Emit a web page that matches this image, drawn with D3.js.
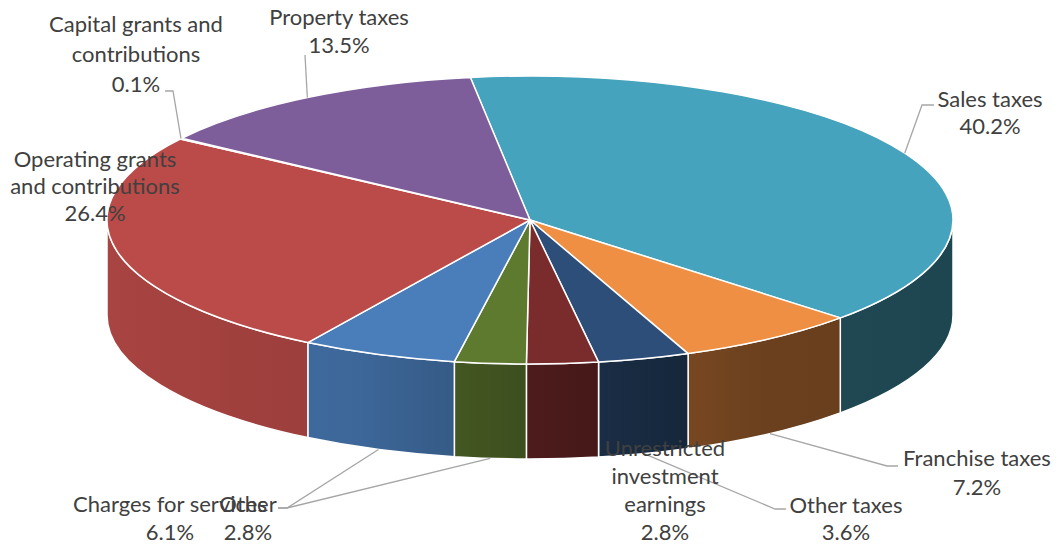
<!DOCTYPE html>
<html>
<head>
<meta charset="utf-8">
<script src="https://cdn.jsdelivr.net/npm/d3@7"></script>
<style>
  body { margin: 0; background: #fff; }
  svg { display: block; }
  .lbl { font-family: Lato, "Open Sans", sans-serif; font-size: 22px; fill: #404040; }
  .leader { fill: none; stroke: #a6a6a6; stroke-width: 1.3; }
</style>
</head>
<body>
<svg id="pieChart" width="1058" height="546"></svg>
<script>
// data, in the order the slices run clockwise from the top
var categories = ["Sales taxes", "Franchise taxes", "Other taxes", "Unrestricted investment earnings",
    "Other", "Charges for services", "Operating grants and contributions",
    "Capital grants and contributions", "Property taxes"];
var percents = [40.2, 7.2, 3.6, 2.8, 2.8, 6.1, 26.4, 0.1, 13.5];
var labelText = [
    ["Sales taxes"], ["Franchise taxes"], ["Other taxes"], ["Unrestricted", "investment", "earnings"],
    ["Other"], ["Charges for services"], ["Operating grants", "and contributions"],
    ["Capital grants and", "contributions"], ["Property taxes"]
];

// styling / layout
var colorArray = ["#46a3bd", "#ee8f43", "#2d4e78", "#7a2b2b", "#5e7a2f", "#4a7ebb", "#bb4b48", "#9bbb59", "#7d5e9b"];
var cx = 530, cy = 220, rx = 423, ry = 144, depth = 95;

// label text position (centre x, first baseline, line step) and leader elbow points
var labelPos = [
    {x: 990, y: 107, step: 27, leader: [[922, 105], [934, 105]], from: "top"},
    {x: 977, y: 466, step: 29, leader: [[887, 466], [898, 466]], from: "side"},
    {x: 846, y: 513, step: 27, leader: [[775, 509], [786, 509]], from: "side"},
    {x: 665, y: 456, step: 28, leader: null},
    {x: 248, y: 512, step: 28, leader: [[287, 508], [278, 508]], from: "side"},
    {x: 170, y: 512, step: 28, leader: [[287, 508], [278, 508]], from: "side"},
    {x: 95, y: 167, step: 27, leader: null},
    {x: 136, y: 32, step: 30, leader: [[173, 91], [165, 91]], from: "top"},
    {x: 339, y: 25, step: 28, leader: [[305, 55]], from: "top"}
];

var svg = d3.select("#pieChart");
var defs = svg.append("defs");

var pie = d3.pie()
    .sort(null)
    .value(function(d) { return d; })
    .startAngle(-8.1 * Math.PI / 180)
    .endAngle(-8.1 * Math.PI / 180 + 2 * Math.PI);

var arcs = pie(percents);

// point on the ellipse for an angle measured clockwise from 12 o'clock
function pt(a, dy) {
    return [cx + rx * Math.sin(a), cy - ry * Math.cos(a) + (dy || 0)];
}

function topPath(d) {
    var p0 = pt(d.startAngle), p1 = pt(d.endAngle);
    var large = (d.endAngle - d.startAngle) > Math.PI ? 1 : 0;
    return "M" + cx + "," + cy + "L" + p0 + "A" + rx + "," + ry + " 0 " + large + " 1 " + p1 + "Z";
}

function sidePath(d) {
    var a0 = Math.max(d.startAngle, Math.PI / 2);
    var a1 = Math.min(d.endAngle, 3 * Math.PI / 2);
    if (a1 <= a0) return null;
    var t0 = pt(a0), t1 = pt(a1), b0 = pt(a0, depth), b1 = pt(a1, depth);
    return "M" + t0 + "A" + rx + "," + ry + " 0 0 1 " + t1 + "L" + b1 +
        "A" + rx + "," + ry + " 0 0 0 " + b0 + "Z";
}

// side shading: lighter on the left, darker on the right
var shade = [[0, 0.9], [0.3, 0.82], [0.45, 0.68], [0.65, 0.52], [0.78, 0.45], [1, 0.43]];
function scaleColor(c, f) {
    var r = d3.rgb(c);
    return d3.rgb(r.r * f, r.g * f, r.b * f).toString();
}

arcs.forEach(function(d, i) {
    var g = defs.append("linearGradient")
        .attr("id", "side" + i)
        .attr("gradientUnits", "userSpaceOnUse")
        .attr("x1", cx - rx).attr("x2", cx + rx)
        .attr("y1", 0).attr("y2", 0);
    shade.forEach(function(s) {
        g.append("stop")
            .attr("offset", s[0])
            .attr("stop-color", scaleColor(colorArray[i], s[1]));
    });
});

// side walls
svg.append("g").selectAll("path")
    .data(arcs.filter(function(d) { return sidePath(d) !== null; }))
    .enter()
    .append("path")
        .attr("d", sidePath)
        .attr("fill", function(d) { return "url(#side" + d.index + ")"; })
        .attr("stroke", "#fff")
        .attr("stroke-width", 1.5)
        .attr("stroke-linejoin", "round");

// top faces
svg.append("g").selectAll("path")
    .data(arcs)
    .enter()
    .append("path")
        .attr("d", topPath)
        .attr("fill", function(d, i) { return colorArray[i]; })
        .attr("stroke", "#fff")
        .attr("stroke-width", 1.5)
        .attr("stroke-linejoin", "round");

// leader lines
arcs.forEach(function(d, i) {
    var lp = labelPos[i];
    if (!lp.leader) return;
    var mid = (d.startAngle + d.endAngle) / 2;
    var start = lp.from === "side" ? pt(mid, depth) : pt(mid);
    svg.append("path")
        .attr("class", "leader")
        .attr("d", d3.line()([start].concat(lp.leader)));
});

// labels
arcs.forEach(function(d, i) {
    var lp = labelPos[i];
    var lines = labelText[i].concat([d3.format(".1f")(percents[i]) + "%"]);
    var t = svg.append("text")
        .attr("class", "lbl")
        .attr("text-anchor", "middle");
    lines.forEach(function(s, k) {
        t.append("tspan")
            .attr("x", lp.x)
            .attr("y", lp.y + k * lp.step)
            .text(s);
    });
});
</script>
</body>
</html>
